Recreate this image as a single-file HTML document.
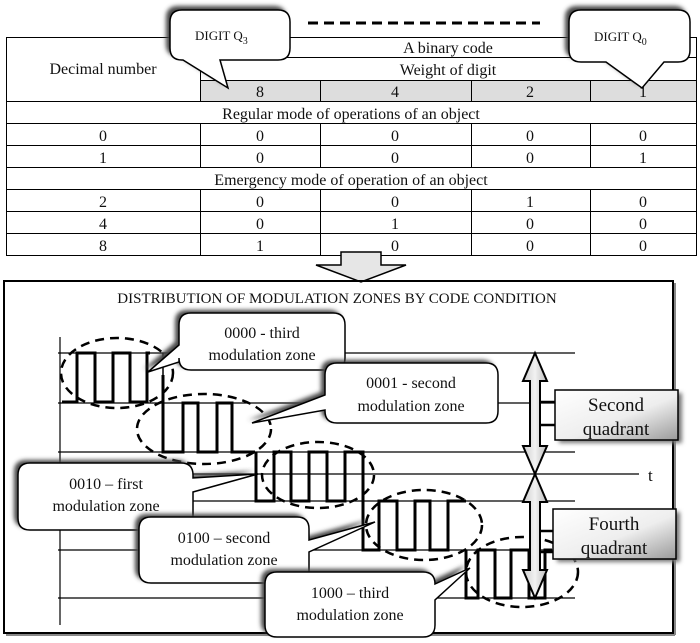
<!DOCTYPE html>
<html><head><meta charset="utf-8"><style>
html,body{margin:0;padding:0;background:#fff}
svg{display:block}
text{font-family:"Liberation Serif",serif;fill:#111}
</style></head><body>
<svg width="700" height="643" viewBox="0 0 700 643" xmlns="http://www.w3.org/2000/svg">
<defs>
<filter id="bl" x="-20%" y="-20%" width="140%" height="140%"><feGaussianBlur stdDeviation="2"/></filter>
<linearGradient id="qg" x1="0" y1="0" x2="1" y2="1"><stop offset="0" stop-color="#fff"/><stop offset="0.55" stop-color="#eee"/><stop offset="1" stop-color="#9a9a9a"/></linearGradient>
<linearGradient id="ag" x1="0" y1="0" x2="1" y2="0"><stop offset="0" stop-color="#ccc"/><stop offset="0.5" stop-color="#f2f2f2"/><stop offset="1" stop-color="#bbb"/></linearGradient>
</defs>
<!-- TABLE -->
<g stroke="#000" stroke-width="1" fill="none">
<rect x="200" y="80" width="497" height="21" fill="#ddd" stroke="none"/>
<rect x="6.5" y="37.5" width="690" height="218"/>
<line x1="200" y1="57.5" x2="697" y2="57.5"/>
<line x1="200" y1="80.5" x2="697" y2="80.5"/>
<line x1="200.5" y1="37" x2="200.5" y2="101"/>
<line x1="6" y1="101.5" x2="697" y2="101.5"/>
<line x1="6" y1="123.5" x2="697" y2="123.5"/>
<line x1="6" y1="145.5" x2="697" y2="145.5"/>
<line x1="6" y1="167.5" x2="697" y2="167.5"/>
<line x1="6" y1="189.5" x2="697" y2="189.5"/>
<line x1="6" y1="211.5" x2="697" y2="211.5"/>
<line x1="6" y1="233.5" x2="697" y2="233.5"/>
<line x1="320.5" y1="80" x2="320.5" y2="101"/><line x1="471.5" y1="80" x2="471.5" y2="101"/><line x1="590.5" y1="80" x2="590.5" y2="101"/>
<line x1="200.5" y1="123" x2="200.5" y2="167"/><line x1="320.5" y1="123" x2="320.5" y2="167"/><line x1="471.5" y1="123" x2="471.5" y2="167"/><line x1="590.5" y1="123" x2="590.5" y2="167"/>
<line x1="200.5" y1="189" x2="200.5" y2="256"/><line x1="320.5" y1="189" x2="320.5" y2="256"/><line x1="471.5" y1="189" x2="471.5" y2="256"/><line x1="590.5" y1="189" x2="590.5" y2="256"/>
</g>
<g font-size="16" text-anchor="middle">
<text x="103" y="74">Decimal number</text>
<text x="448" y="53">A binary code</text>
<text x="448" y="75">Weight of digit</text>
<text x="260" y="97">8</text><text x="395" y="97">4</text><text x="530" y="97">2</text><text x="643" y="97">1</text>
<text x="351" y="119">Regular mode of operations of an object</text>
<text x="103" y="141">0</text><text x="260" y="141">0</text><text x="395" y="141">0</text><text x="530" y="141">0</text><text x="643" y="141">0</text>
<text x="103" y="163">1</text><text x="260" y="163">0</text><text x="395" y="163">0</text><text x="530" y="163">0</text><text x="643" y="163">1</text>
<text x="351" y="185">Emergency mode of operation of an object</text>
<text x="103" y="207">2</text><text x="260" y="207">0</text><text x="395" y="207">0</text><text x="530" y="207">1</text><text x="643" y="207">0</text>
<text x="103" y="229">4</text><text x="260" y="229">0</text><text x="395" y="229">1</text><text x="530" y="229">0</text><text x="643" y="229">0</text>
<text x="103" y="251">8</text><text x="260" y="251">1</text><text x="395" y="251">0</text><text x="530" y="251">0</text><text x="643" y="251">0</text>
</g>
<line x1="308" y1="23" x2="540" y2="23" stroke="#000" stroke-width="3" stroke-dasharray="10,6"/>
<g>
<path d="M182,10 H278 Q290,10 290,22 V48 Q290,60 278,60 H220 L228,88 L183,60 H182 Q170,60 170,48 V22 Q170,10 182,10 Z" fill="#444" filter="url(#bl)" transform="translate(-4,-4)"/>
<path d="M182,10 H278 Q290,10 290,22 V48 Q290,60 278,60 H220 L228,88 L183,60 H182 Q170,60 170,48 V22 Q170,10 182,10 Z" fill="#fff" stroke="#000" stroke-width="1.5"/>
<text x="195" y="40" font-size="13">DIGIT Q<tspan font-size="10" dy="4">3</tspan></text>
<path d="M581,10 H678 Q690,10 690,22 V50 Q690,62 678,62 H664 L642,88 L606,62 H581 Q569,62 569,50 V22 Q569,10 581,10 Z" fill="#444" filter="url(#bl)" transform="translate(-4,-4)"/>
<path d="M581,10 H678 Q690,10 690,22 V50 Q690,62 678,62 H664 L642,88 L606,62 H581 Q569,62 569,50 V22 Q569,10 581,10 Z" fill="#fff" stroke="#000" stroke-width="1.5"/>
<text x="594" y="41" font-size="13">DIGIT Q<tspan font-size="10" dy="4">0</tspan></text>
</g>
<path d="M341,252 H381 V265 H406 L361,282 L316,265 H341 Z" fill="#e6e6e6" stroke="#000" stroke-width="1.5"/>
<rect x="4" y="281" width="669" height="352" fill="none" stroke="#000" stroke-width="2"/>
<line x1="6" y1="635" x2="675" y2="635" stroke="#888" stroke-width="2"/>
<line x1="675" y1="283" x2="675" y2="635" stroke="#888" stroke-width="2"/>
<text x="337" y="303" font-size="15" text-anchor="middle">DISTRIBUTION OF MODULATION ZONES BY CODE CONDITION</text>
<g stroke="#000" stroke-width="1.2">
<line x1="60" y1="337" x2="60" y2="625"/>
<line x1="58" y1="353" x2="575" y2="353"/>
<line x1="58" y1="403" x2="575" y2="403"/>
<line x1="58" y1="452" x2="575" y2="452"/>
<line x1="58" y1="474" x2="639" y2="474"/>
<line x1="58" y1="501" x2="575" y2="501"/>
<line x1="58" y1="550" x2="575" y2="550"/>
<line x1="58" y1="598" x2="575" y2="598"/>
</g>
<text x="648" y="481" font-size="17">t</text>
<g fill="none" stroke="#000" stroke-width="3" stroke-linejoin="miter">
<polyline points="62,402 77,402 77,353 95,353 95,402 113,402 113,353 130,353 130,402 147,402 147,353 150,353"/>
<polyline points="163,375 163,452 183,452 183,403 198,403 198,452 217,452 217,403 232,403 232,452 255,452"/>
<polyline points="256,452 256,501 274,501 274,452 291,452 291,501 309,501 309,452 327,452 327,501 345,501 345,452 363,452 363,501"/>
<polyline points="363,501 363,550 379,550 379,501 397,501 397,550 415,550 415,501 430,501 430,550 448,550 448,501 466,501"/>
<polyline points="466,550 466,598 478,598 478,550 495,550 495,598 511,598 511,550 529,550 529,598 545,598 545,550 552,550"/>
</g>
<g stroke="#000" stroke-width="1.5"><line x1="163" y1="353" x2="163" y2="403"/></g>
<g fill="none" stroke="#000" stroke-width="2.5" stroke-dasharray="9,6">
<ellipse cx="117" cy="373" rx="56" ry="35"/>
<ellipse cx="204" cy="429" rx="67" ry="35"/>
<ellipse cx="318" cy="475" rx="56" ry="33"/>
<ellipse cx="424" cy="525" rx="58" ry="35"/>
<ellipse cx="522" cy="572" rx="56" ry="35"/>
</g>
<g stroke="#000" stroke-width="2" fill="url(#ag)">
<path d="M535,353 L547,381 H540 V446 H547 L535,474 L523,446 H530 V381 H523 Z"/>
<path d="M535,474 L547,502 H540 V570 H547 L535,598 L523,570 H530 V502 H523 Z"/>
</g>
<g stroke="#000" stroke-width="2.5" fill="none">
<polyline points="540,402 555,402"/>
<polyline points="540,425 555,425"/>
<polyline points="540,531 555,531"/>
<polyline points="540,552 555,552"/>
</g>
<rect x="559" y="393" width="123" height="50" fill="#777" filter="url(#bl)"/>
<rect x="555" y="390" width="123" height="50" fill="url(#qg)" stroke="#000" stroke-width="1.5"/>
<text x="616" y="411" font-size="19" text-anchor="middle">Second</text>
<text x="616" y="435" font-size="19" text-anchor="middle">quadrant</text>
<rect x="557" y="512" width="123" height="50" fill="#777" filter="url(#bl)"/>
<rect x="553" y="509" width="123" height="50" fill="url(#qg)" stroke="#000" stroke-width="1.5"/>
<text x="614" y="530" font-size="19" text-anchor="middle">Fourth</text>
<text x="614" y="554" font-size="19" text-anchor="middle">quadrant</text>
<g font-size="16" text-anchor="middle">
<path d="M191,313 H333 Q345,313 345,325 V358 Q345,370 333,370 H191 Q179,370 179,358 V362 L148,372 L179,345 V325 Q179,313 191,313 Z" fill="#444" filter="url(#bl)" transform="translate(-4,-3)"/>
<path d="M191,313 H333 Q345,313 345,325 V358 Q345,370 333,370 H191 Q179,370 179,358 V362 L148,372 L179,345 V325 Q179,313 191,313 Z" fill="#fff" stroke="#000" stroke-width="1.5"/>
<text x="262" y="338">0000 - third</text><text x="262" y="360">modulation zone</text>

<path d="M337,363 H486 Q498,363 498,375 V411 Q498,423 486,423 H337 Q325,423 325,411 V410 L252,423 L325,395 V375 Q325,363 337,363 Z" fill="#444" filter="url(#bl)" transform="translate(-4,-3)"/>
<path d="M337,363 H486 Q498,363 498,375 V411 Q498,423 486,423 H337 Q325,423 325,411 V410 L252,423 L325,395 V375 Q325,363 337,363 Z" fill="#fff" stroke="#000" stroke-width="1.5"/>
<text x="411" y="388">0001 - second</text><text x="411" y="411">modulation zone</text>

<path d="M30,463 H181 Q193,463 193,475 V478 L258,474 L193,492 V518 Q193,530 181,530 H30 Q18,530 18,518 V475 Q18,463 30,463 Z" fill="#444" filter="url(#bl)" transform="translate(-4,-3)"/>
<path d="M30,463 H181 Q193,463 193,475 V478 L258,474 L193,492 V518 Q193,530 181,530 H30 Q18,530 18,518 V475 Q18,463 30,463 Z" fill="#fff" stroke="#000" stroke-width="1.5"/>
<text x="106" y="489">0010 – first</text><text x="106" y="511">modulation zone</text>

<path d="M151,517 H297 Q309,517 309,529 V540 L375,522 L309,552 V571 Q309,583 297,583 H151 Q139,583 139,571 V529 Q139,517 151,517 Z" fill="#444" filter="url(#bl)" transform="translate(-4,-3)"/>
<path d="M151,517 H297 Q309,517 309,529 V540 L375,522 L309,552 V571 Q309,583 297,583 H151 Q139,583 139,571 V529 Q139,517 151,517 Z" fill="#fff" stroke="#000" stroke-width="1.5"/>
<text x="224" y="543">0100 – second</text><text x="224" y="565">modulation zone</text>

<path d="M277,572 H423 Q435,572 435,584 L470,568 L435,600 V625 Q435,637 423,637 H277 Q265,637 265,625 V584 Q265,572 277,572 Z" fill="#444" filter="url(#bl)" transform="translate(-4,-3)"/>
<path d="M277,572 H423 Q435,572 435,584 L470,568 L435,600 V625 Q435,637 423,637 H277 Q265,637 265,625 V584 Q265,572 277,572 Z" fill="#fff" stroke="#000" stroke-width="1.5"/>
<text x="350" y="598">1000 – third</text><text x="350" y="620">modulation zone</text>
</g>
</svg>
</body></html>
